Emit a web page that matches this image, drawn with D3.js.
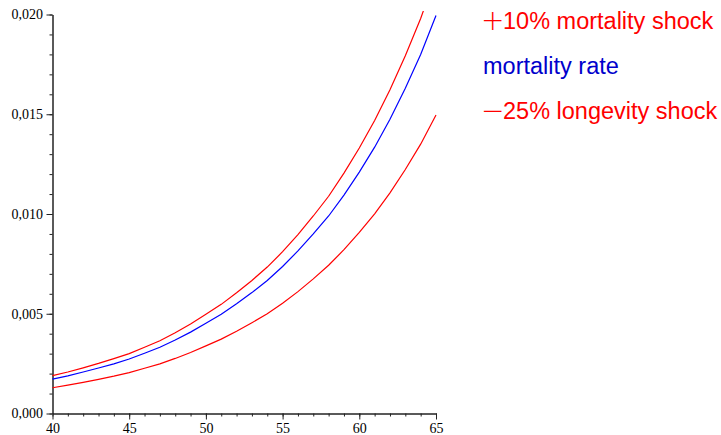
<!DOCTYPE html>
<html>
<head>
<meta charset="utf-8">
<script src="https://cdnjs.cloudflare.com/ajax/libs/d3/7.8.5/d3.min.js"></script>
<style>
  body { margin: 0; background: #fff; }
  svg { display: block; }
  .tick text { font-family: "Liberation Serif", "Times New Roman", serif; font-size: 14px; fill: #000; }
</style>
</head>
<body>
<svg class="chart" width="721" height="435"></svg>
<script>
// ages 40..65
var ages = d3.range(40, 66);
var mortality = [0.00172,0.00189,0.00208,0.00228,0.00249,0.00273,0.00302,0.00332,0.00368,0.00408,
                 0.00452,0.00497,0.00550,0.00606,0.00667,0.00737,0.00815,0.00900,0.00990,0.01095,
                 0.01210,0.01335,0.01475,0.01630,0.01800,0.01995];
var shockUp = [0.00190,0.00208,0.00229,0.00251,0.00275,0.00300,0.00332,0.00365,0.00405,0.00449,
               0.00497,0.00547,0.00605,0.00667,0.00734,0.00811,0.00897,0.00990,0.01089,0.01205,
               0.01331,0.01469,0.01623,0.01793,0.01980,0.02195];
var shockDown = [0.00129,0.00142,0.00156,0.00171,0.00187,0.00205,0.00227,0.00249,0.00276,0.00306,
                 0.00339,0.00373,0.00412,0.00455,0.00500,0.00553,0.00611,0.00675,0.00743,0.00821,
                 0.00908,0.01001,0.01106,0.01223,0.01350,0.01496];
var xTicks = [40,45,50,55,60,65];
var yTicks = [0,0.005,0.010,0.015,0.020];
var legendSigns = ["+","","\u2212"];
var legendLabels = ["10% mortality shock","mortality rate","25% longevity shock"];
var legendColors = ["#ff0000","#0000cc","#ff0000"];

var svg = d3.select("svg.chart");
var x = d3.scaleLinear().domain([40,65]).range([52.5,436]);
var y = d3.scaleLinear().domain([0,0.02]).range([413.5,14.5]);
var fmt = function(d){ return d3.format(".3f")(d).replace(".",","); };

// minor ticks first
svg.append("g")
    .attr("transform","translate(0,413.5)")
    .call(d3.axisBottom(x).tickValues(d3.range(40,66)).tickSize(3).tickSizeOuter(0).tickFormat(""));
svg.append("g")
    .attr("transform","translate(52.5,0)")
    .call(d3.axisLeft(y).tickValues(d3.range(0,21).map(function(i){return i/1000;})).tickSize(3).tickSizeOuter(0).tickFormat(""));

svg.append("g")
    .attr("transform","translate(0,413.5)")
    .call(d3.axisBottom(x).tickValues(xTicks).tickSize(6).tickSizeOuter(0).tickPadding(4));
svg.append("g")
    .attr("transform","translate(52.5,0)")
    .call(d3.axisLeft(y).tickValues(yTicks).tickSize(6).tickSizeOuter(0).tickPadding(3.5).tickFormat(fmt));

svg.selectAll("g").attr("font-family",null).attr("font-size",null);
svg.selectAll(".domain, .tick line").attr("stroke","#222");

svg.append("clipPath").attr("id","plotclip")
    .append("rect").attr("x",52).attr("y",11).attr("width",390).attr("height",405);

var line = function(vals){
    return d3.line()
        .x(function(d,i){ return x(ages[i]); })
        .y(function(d){ return y(d); })(vals);
};
var series = [shockDown, mortality, shockUp];
var seriesColors = ["#ff0000","#0000ff","#ff0000"];
series.forEach(function(s,i){
    svg.append("path")
        .attr("d",line(s))
        .attr("fill","none")
        .attr("stroke",seriesColors[i])
        .attr("stroke-width",1.2)
        .attr("clip-path","url(#plotclip)");
});

legendLabels.forEach(function(t,i){
    var txt = svg.append("text")
        .attr("x",483)
        .attr("y",28.5 + i*45)
        .attr("font-family","'Liberation Sans', Arial, sans-serif")
        .attr("font-size",23.5)
        .attr("fill",legendColors[i]);
    if(legendSigns[i]!==""){
        txt.append("tspan")
            .attr("font-family","'DejaVu Sans', sans-serif")
            .attr("font-weight",200)
            .attr("font-size",28)
            .attr("x",481)
            .attr("dy",1.5)
            .text(legendSigns[i]);
        txt.append("tspan").attr("x",503).attr("dy",-1.5).text(t);
    }
    else{
        txt.text(t);
    }
});
</script>
</body>
</html>
